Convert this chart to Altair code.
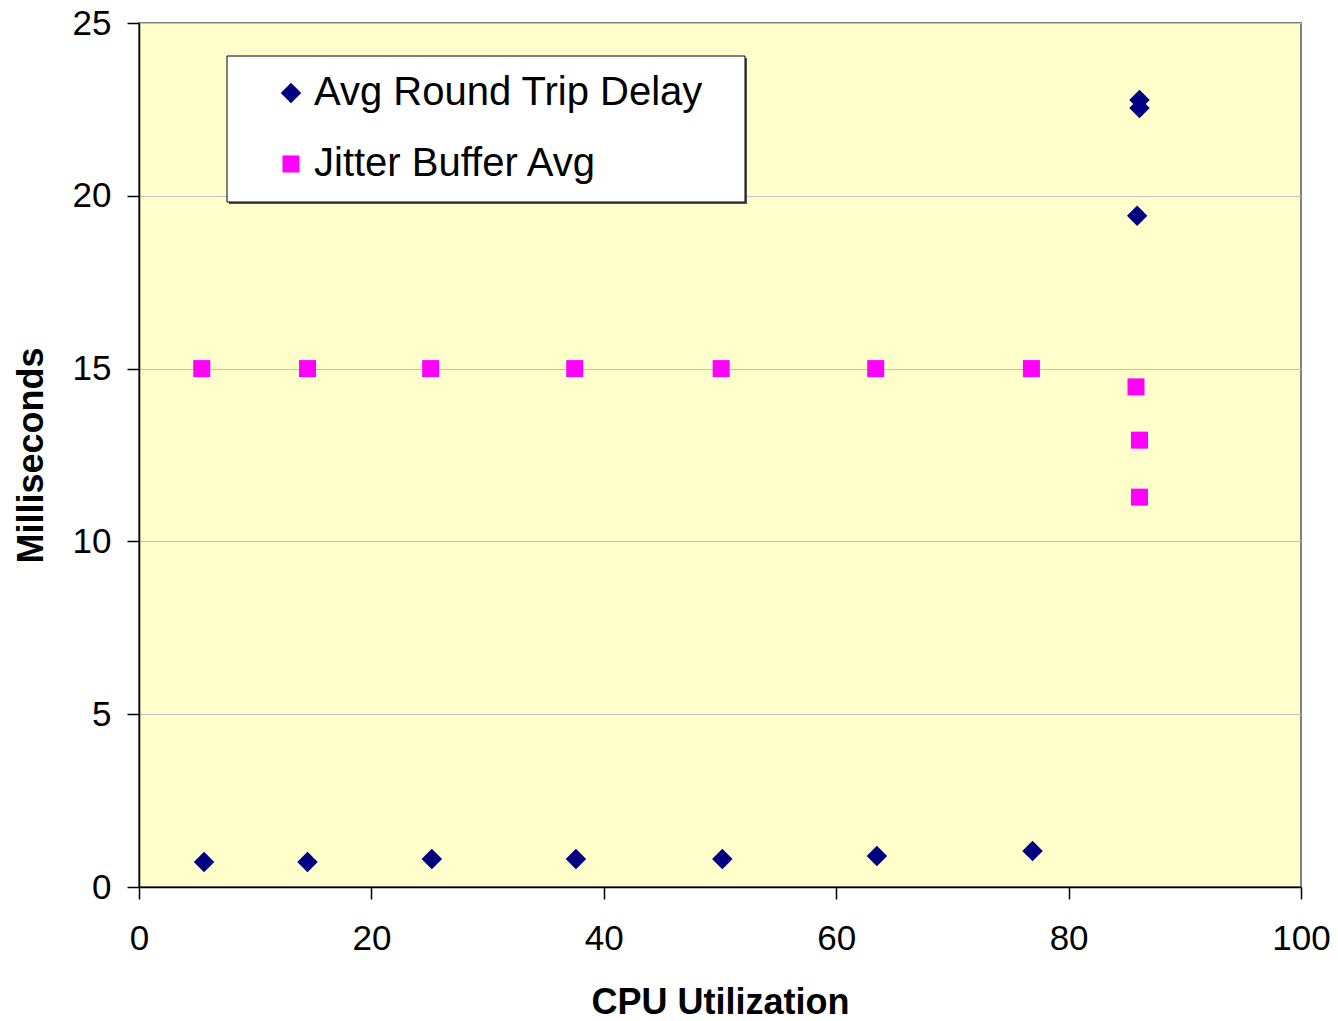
import altair as alt
import pandas as pd

# CPU utilization (%) and measured delays (ms)
rtd_cpu = [5.6, 14.5, 25.2, 37.6, 50.2, 63.5, 76.9, 86.1, 86.1, 85.9]
rtd_ms = [0.72, 0.72, 0.81, 0.81, 0.81, 0.90, 1.04, 22.77, 22.54, 19.42]

jit_cpu = [5.4, 14.5, 25.1, 37.5, 50.1, 63.4, 76.8, 85.8, 86.1, 86.1]
jit_ms = [15.0, 15.0, 15.0, 15.0, 15.0, 15.0, 15.0, 14.47, 12.93, 11.28]

series_names = ["Avg Round Trip Delay", "Jitter Buffer Avg"]
series_colors = ["#000080", "#FF00FF"]
series_shapes = ["diamond", "square"]

rows = []
for c, v in zip(rtd_cpu, rtd_ms):
    rows.append({"cpu": c, "ms": v, "series": series_names[0]})
for c, v in zip(jit_cpu, jit_ms):
    rows.append({"cpu": c, "ms": v, "series": series_names[1]})
df = pd.DataFrame(rows)

FONT = "Liberation Sans"
one = pd.DataFrame({"k": [0]})

# legend frame with a drop shadow
shadow = alt.Chart(one).mark_rect(color="#505050").encode(
    x=alt.value(90), x2=alt.value(608), y=alt.value(35), y2=alt.value(181)
)
frame = alt.Chart(one).mark_rect(fill="white", stroke="black", strokeWidth=1).encode(
    x=alt.value(88), x2=alt.value(606), y=alt.value(33), y2=alt.value(179)
)

legend = alt.Legend(title=None, orient="none", legendX=80, legendY=30)

points = alt.Chart(df).mark_point(filled=True, opacity=1).encode(
    x=alt.X("cpu:Q", title="CPU Utilization",
            scale=alt.Scale(domain=[0, 100], nice=False),
            axis=alt.Axis(values=[0, 20, 40, 60, 80, 100], grid=False,
                          labelFlush=False, titlePadding=29, labelPadding=22)),
    y=alt.Y("ms:Q", title="Milliseconds",
            scale=alt.Scale(domain=[0, 25], nice=False),
            axis=alt.Axis(values=[0, 5, 10, 15, 20, 25], grid=True,
                          labelFlush=False, titlePadding=22, labelPadding=16)),
    color=alt.Color("series:N", sort=series_names,
                    scale=alt.Scale(domain=series_names, range=series_colors),
                    legend=legend),
    shape=alt.Shape("series:N", sort=series_names,
                    scale=alt.Scale(domain=series_names, range=series_shapes),
                    legend=legend),
    size=alt.Size("series:N", scale=alt.Scale(domain=series_names, range=[420, 290]),
                  legend=None),
)

chart = alt.layer(shadow, frame, points).properties(
    width=1162, height=864,
    background="white",
    padding={"left": 139, "top": 23, "right": 37, "bottom": 134},
    autosize=alt.AutoSizeParams(type="none"),
).configure_view(
    fill="#FFFFCC", stroke="#808080", strokeWidth=2
).configure_axis(
    labelFont=FONT, labelFontSize=35, labelColor="black",
    titleFont=FONT, titleFontSize=36, titleFontWeight="bold", titleColor="black",
    domainColor="black", domainWidth=1.5, tickColor="black", tickWidth=1.5,
    tickSize=12, gridColor="#C0C0C0", gridWidth=1,
).configure_legend(
    labelFont=FONT, labelFontSize=40, labelColor="black",
    padding=20, symbolOffset=32, labelOffset=3, rowPadding=31,
    symbolSize=300, symbolStrokeWidth=0, labelLimit=700,
)

chart.save("out.html", embed_options={"renderer": "svg", "actions": False})
